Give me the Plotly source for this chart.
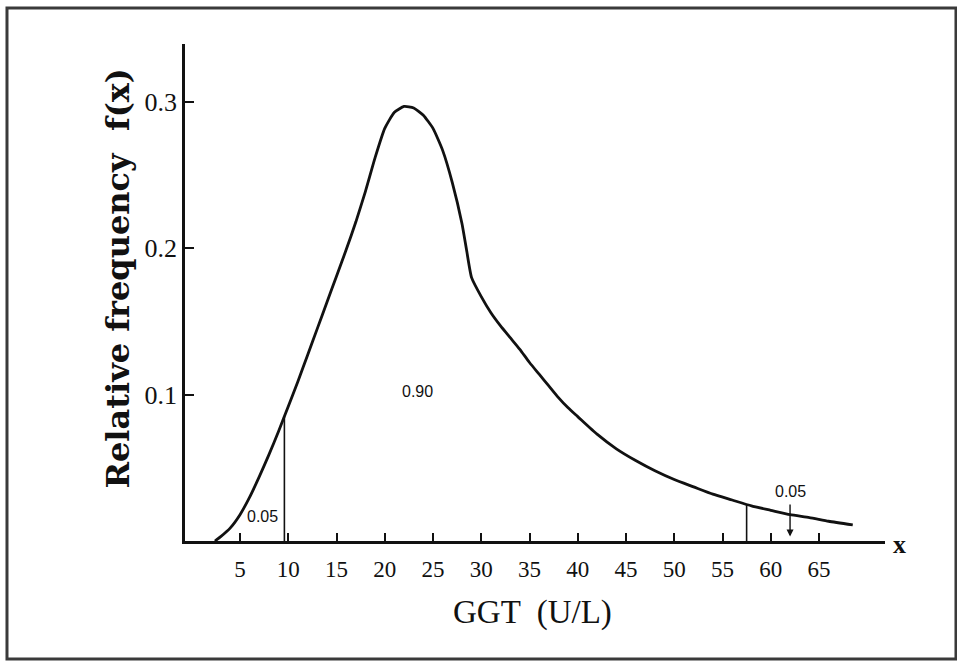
import plotly.graph_objects as go

# Curve data (GGT U/L vs relative frequency)
curve_x = [2.4, 3, 4, 5, 6, 7, 8, 9, 10, 11, 12, 13, 14, 15, 16, 17, 18, 19, 20, 21, 22,
           23, 24, 25, 26, 27, 28, 28.5, 29, 30, 31, 32, 33, 34, 35, 36, 37, 38, 39, 40,
           42, 44, 46, 48, 50, 52, 54, 56, 58, 60, 62, 64, 66, 68.5]
curve_y = [0.0, 0.003, 0.009, 0.018, 0.030, 0.044, 0.059, 0.075, 0.092, 0.109, 0.127,
           0.145, 0.163, 0.181, 0.199, 0.218, 0.239, 0.262, 0.282, 0.293, 0.297, 0.296,
           0.291, 0.282, 0.267, 0.245, 0.217, 0.198, 0.180, 0.167, 0.156, 0.147, 0.139,
           0.131, 0.122, 0.114, 0.106, 0.098, 0.091, 0.085, 0.073, 0.063, 0.055, 0.048,
           0.042, 0.037, 0.032, 0.028, 0.024, 0.021, 0.018, 0.016, 0.0135, 0.011]

lower_cut_x = [9.6, 9.6]
lower_cut_y = [0.0, 0.085]
upper_cut_x = [57.5, 57.5]
upper_cut_y = [0.0, 0.025]

x_ticks = [5, 10, 15, 20, 25, 30, 35, 40, 45, 50, 55, 60, 65]
y_ticks = [0.1, 0.2, 0.3]
y_tick_labels = ["0.1", "0.2", "0.3"]

area_labels = ["0.05", "0.90", "0.05"]
area_x = [7.3, 23.4, 62.0]
area_y = [0.017, 0.102, 0.0335]

INK = "#111111"
SERIF = "Liberation Serif, DejaVu Serif, serif"

fig = go.Figure()
fig.add_trace(go.Scatter(x=curve_x, y=curve_y, mode="lines",
                         line=dict(color=INK, width=2.8, shape="spline", smoothing=0.5),
                         showlegend=False, hoverinfo="skip"))
fig.add_trace(go.Scatter(x=lower_cut_x, y=lower_cut_y, mode="lines",
                         line=dict(color=INK, width=1.6), showlegend=False, hoverinfo="skip"))
fig.add_trace(go.Scatter(x=upper_cut_x, y=upper_cut_y, mode="lines",
                         line=dict(color=INK, width=1.6), showlegend=False, hoverinfo="skip"))

for t, xv, yv in zip(area_labels, area_x, area_y):
    fig.add_annotation(x=xv, y=yv, xref="x", yref="y", text=t, showarrow=False,
                       font=dict(family="Liberation Sans Narrow, Liberation Sans, Arial", size=16, color=INK))

# arrow pointing to the upper tail
fig.add_annotation(x=area_x[2], y=0.003, ax=area_x[2], ay=0.026, xref="x", yref="y",
                   axref="x", ayref="y", text="", showarrow=True, arrowhead=2,
                   arrowsize=1, arrowwidth=1.4, arrowcolor=INK)

# axis titles
fig.add_annotation(x=-0.0957, y=0.528, xref="paper", yref="paper", xanchor="center",
                   yanchor="middle", text="<b>Relative frequency  f(x)</b>", textangle=-90,
                   showarrow=False, font=dict(family="DejaVu Serif, serif", size=32, color=INK))
fig.add_annotation(x=0.497, y=-0.143, xref="paper", yref="paper", xanchor="center",
                   yanchor="middle", text="GGT  (U/L)", showarrow=False,
                   font=dict(family=SERIF, size=33, color=INK))
fig.add_annotation(x=1.02, y=-0.008, xref="paper", yref="paper", xanchor="center",
                   yanchor="middle", text="<b>x</b>", showarrow=False,
                   font=dict(family=SERIF, size=26, color=INK))

# outer frame
fig.add_shape(type="rect", xref="paper", yref="paper",
              x0=-0.2543, x1=1.1014, y0=-0.2374, y1=1.0724,
              line=dict(color="#3a3a3a", width=3))

fig.update_xaxes(range=[-0.70, 71.84], tickvals=x_ticks, ticks="inside", ticklen=8,
                 tickwidth=2, tickcolor=INK, showline=True, linewidth=2.5, linecolor=INK,
                 showgrid=False, zeroline=False, ticklabelstandoff=6,
                 tickfont=dict(family=SERIF, size=23, color=INK))
fig.update_yaxes(range=[0, 0.3397], tickvals=y_ticks, ticktext=y_tick_labels, ticks="inside",
                 ticklen=9, tickwidth=2, tickcolor=INK, showline=True, linewidth=2.5,
                 linecolor=INK, showgrid=False, zeroline=False,
                 tickfont=dict(family=SERIF, size=26, color=INK))

fig.update_layout(width=957, height=663, margin=dict(l=185, r=72, t=44, b=122),
                  plot_bgcolor="white", paper_bgcolor="white")

fig.write_html("out.html", config={"displayModeBar": False},
               post_script="document.body.style.margin='0';document.body.style.padding='0';")
